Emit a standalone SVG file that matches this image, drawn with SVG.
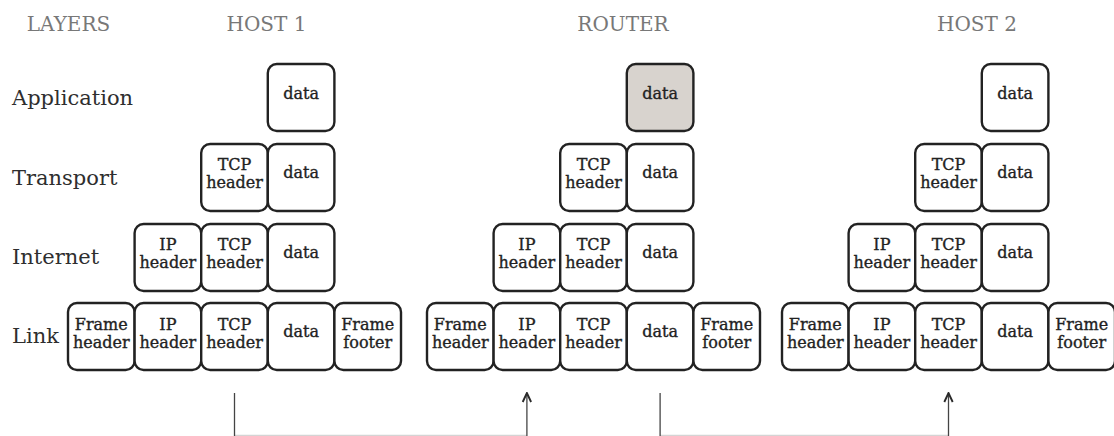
<svg xmlns="http://www.w3.org/2000/svg" width="1114" height="436" viewBox="0 0 1114 436">
  <style>
    .title { font-family: "DejaVu Serif", "Liberation Serif", serif; font-size: 20px; fill: #787878; text-anchor: middle; }
    .layer { font-family: "DejaVu Serif", "Liberation Serif", serif; font-size: 21px; fill: #2e2e2e; }
    .cell { fill: #fff; stroke: #222; stroke-width: 2.4; }
    .cell.hl { fill: #d8d3ce; }
    .lbl { font-family: "DejaVu Serif", "Liberation Serif", serif; font-size: 16px; fill: #222; stroke: #222; stroke-width: 0.35; text-anchor: middle; }
    .wire { fill: none; stroke: #444; stroke-width: 1.3; }
    .wire.base { stroke: #d4d4d4; }
  </style>
  <defs>
    <marker id="arrow" viewBox="0 0 12 12" refX="10.5" refY="6" markerWidth="12" markerHeight="12" markerUnits="userSpaceOnUse" orient="auto">
      <path d="M1.5,1.8 L10.5,6 L1.5,10.2" fill="none" stroke="#2a2a2a" stroke-width="1.9"/>
    </marker>
  </defs>
  <rect width="1114" height="436" fill="#fff"/>

  <!-- column titles -->
  <g id="titles">
    <text class="title" x="68.5" y="31">LAYERS</text>
    <text class="title" x="266.5" y="31">HOST 1</text>
    <text class="title" x="623" y="31">ROUTER</text>
    <text class="title" x="977" y="31">HOST 2</text>
  </g>

  <!-- layer names -->
  <g id="layers">
    <text class="layer" x="12" y="105">Application</text>
    <text class="layer" x="12" y="185">Transport</text>
    <text class="layer" x="12" y="264">Internet</text>
    <text class="layer" x="12" y="343">Link</text>
  </g>

  <!-- HOST 1 stack -->
  <g id="host1">
    <g id="h1-app-data"><rect class="cell" x="267.8" y="64" width="66.6" height="67" rx="9"/><text class="lbl" x="301.1" y="99">data</text></g>

    <g id="h1-tr-tcp"><rect class="cell" x="201.2" y="144" width="66.6" height="67" rx="9"/><text class="lbl" x="234.5" y="170">TCP</text><text class="lbl" x="234.5" y="188">header</text></g>
    <g id="h1-tr-data"><rect class="cell" x="267.8" y="144" width="66.6" height="67" rx="9"/><text class="lbl" x="301.1" y="178">data</text></g>

    <g id="h1-in-ip"><rect class="cell" x="134.6" y="224" width="66.6" height="67" rx="9"/><text class="lbl" x="167.9" y="250">IP</text><text class="lbl" x="167.9" y="268">header</text></g>
    <g id="h1-in-tcp"><rect class="cell" x="201.2" y="224" width="66.6" height="67" rx="9"/><text class="lbl" x="234.5" y="250">TCP</text><text class="lbl" x="234.5" y="268">header</text></g>
    <g id="h1-in-data"><rect class="cell" x="267.8" y="224" width="66.6" height="67" rx="9"/><text class="lbl" x="301.1" y="258">data</text></g>

    <g id="h1-ln-frame"><rect class="cell" x="68" y="303" width="66.6" height="67" rx="9"/><text class="lbl" x="101.3" y="330">Frame</text><text class="lbl" x="101.3" y="348">header</text></g>
    <g id="h1-ln-ip"><rect class="cell" x="134.6" y="303" width="66.6" height="67" rx="9"/><text class="lbl" x="167.9" y="330">IP</text><text class="lbl" x="167.9" y="348">header</text></g>
    <g id="h1-ln-tcp"><rect class="cell" x="201.2" y="303" width="66.6" height="67" rx="9"/><text class="lbl" x="234.5" y="330">TCP</text><text class="lbl" x="234.5" y="348">header</text></g>
    <g id="h1-ln-data"><rect class="cell" x="267.8" y="303" width="66.6" height="67" rx="9"/><text class="lbl" x="301.1" y="337">data</text></g>
    <g id="h1-ln-footer"><rect class="cell" x="334.4" y="303" width="66.6" height="67" rx="9"/><text class="lbl" x="367.7" y="330">Frame</text><text class="lbl" x="367.7" y="348">footer</text></g>
  </g>

  <!-- ROUTER stack -->
  <g id="router">
    <g id="r-app-data"><rect class="cell hl" x="626.8" y="64" width="66.6" height="67" rx="9"/><text class="lbl" x="660.1" y="99">data</text></g>

    <g id="r-tr-tcp"><rect class="cell" x="560.2" y="144" width="66.6" height="67" rx="9"/><text class="lbl" x="593.5" y="170">TCP</text><text class="lbl" x="593.5" y="188">header</text></g>
    <g id="r-tr-data"><rect class="cell" x="626.8" y="144" width="66.6" height="67" rx="9"/><text class="lbl" x="660.1" y="178">data</text></g>

    <g id="r-in-ip"><rect class="cell" x="493.6" y="224" width="66.6" height="67" rx="9"/><text class="lbl" x="526.9" y="250">IP</text><text class="lbl" x="526.9" y="268">header</text></g>
    <g id="r-in-tcp"><rect class="cell" x="560.2" y="224" width="66.6" height="67" rx="9"/><text class="lbl" x="593.5" y="250">TCP</text><text class="lbl" x="593.5" y="268">header</text></g>
    <g id="r-in-data"><rect class="cell" x="626.8" y="224" width="66.6" height="67" rx="9"/><text class="lbl" x="660.1" y="258">data</text></g>

    <g id="r-ln-frame"><rect class="cell" x="427" y="303" width="66.6" height="67" rx="9"/><text class="lbl" x="460.3" y="330">Frame</text><text class="lbl" x="460.3" y="348">header</text></g>
    <g id="r-ln-ip"><rect class="cell" x="493.6" y="303" width="66.6" height="67" rx="9"/><text class="lbl" x="526.9" y="330">IP</text><text class="lbl" x="526.9" y="348">header</text></g>
    <g id="r-ln-tcp"><rect class="cell" x="560.2" y="303" width="66.6" height="67" rx="9"/><text class="lbl" x="593.5" y="330">TCP</text><text class="lbl" x="593.5" y="348">header</text></g>
    <g id="r-ln-data"><rect class="cell" x="626.8" y="303" width="66.6" height="67" rx="9"/><text class="lbl" x="660.1" y="337">data</text></g>
    <g id="r-ln-footer"><rect class="cell" x="693.4" y="303" width="66.6" height="67" rx="9"/><text class="lbl" x="726.7" y="330">Frame</text><text class="lbl" x="726.7" y="348">footer</text></g>
  </g>

  <!-- HOST 2 stack -->
  <g id="host2">
    <g id="h2-app-data"><rect class="cell" x="981.8" y="64" width="66.6" height="67" rx="9"/><text class="lbl" x="1015.1" y="99">data</text></g>

    <g id="h2-tr-tcp"><rect class="cell" x="915.2" y="144" width="66.6" height="67" rx="9"/><text class="lbl" x="948.5" y="170">TCP</text><text class="lbl" x="948.5" y="188">header</text></g>
    <g id="h2-tr-data"><rect class="cell" x="981.8" y="144" width="66.6" height="67" rx="9"/><text class="lbl" x="1015.1" y="178">data</text></g>

    <g id="h2-in-ip"><rect class="cell" x="848.6" y="224" width="66.6" height="67" rx="9"/><text class="lbl" x="881.9" y="250">IP</text><text class="lbl" x="881.9" y="268">header</text></g>
    <g id="h2-in-tcp"><rect class="cell" x="915.2" y="224" width="66.6" height="67" rx="9"/><text class="lbl" x="948.5" y="250">TCP</text><text class="lbl" x="948.5" y="268">header</text></g>
    <g id="h2-in-data"><rect class="cell" x="981.8" y="224" width="66.6" height="67" rx="9"/><text class="lbl" x="1015.1" y="258">data</text></g>

    <g id="h2-ln-frame"><rect class="cell" x="782" y="303" width="66.6" height="67" rx="9"/><text class="lbl" x="815.3" y="330">Frame</text><text class="lbl" x="815.3" y="348">header</text></g>
    <g id="h2-ln-ip"><rect class="cell" x="848.6" y="303" width="66.6" height="67" rx="9"/><text class="lbl" x="881.9" y="330">IP</text><text class="lbl" x="881.9" y="348">header</text></g>
    <g id="h2-ln-tcp"><rect class="cell" x="915.2" y="303" width="66.6" height="67" rx="9"/><text class="lbl" x="948.5" y="330">TCP</text><text class="lbl" x="948.5" y="348">header</text></g>
    <g id="h2-ln-data"><rect class="cell" x="981.8" y="303" width="66.6" height="67" rx="9"/><text class="lbl" x="1015.1" y="337">data</text></g>
    <g id="h2-ln-footer"><rect class="cell" x="1048.4" y="303" width="66.6" height="67" rx="9"/><text class="lbl" x="1081.7" y="330">Frame</text><text class="lbl" x="1081.7" y="348">footer</text></g>
  </g>

  <!-- physical links between the stacks: host 1 to router, router to host 2 -->
  <g id="connectors">
    <path class="wire base" d="M234.5,435.5 H526.9"/>
    <path class="wire" d="M234.5,393 V436"/>
    <path class="wire" d="M526.9,436 V393" marker-end="url(#arrow)"/>
    <path class="wire base" d="M660.1,435.5 H948.5"/>
    <path class="wire" d="M660.1,393 V436"/>
    <path class="wire" d="M948.5,436 V393" marker-end="url(#arrow)"/>
  </g>
</svg>
